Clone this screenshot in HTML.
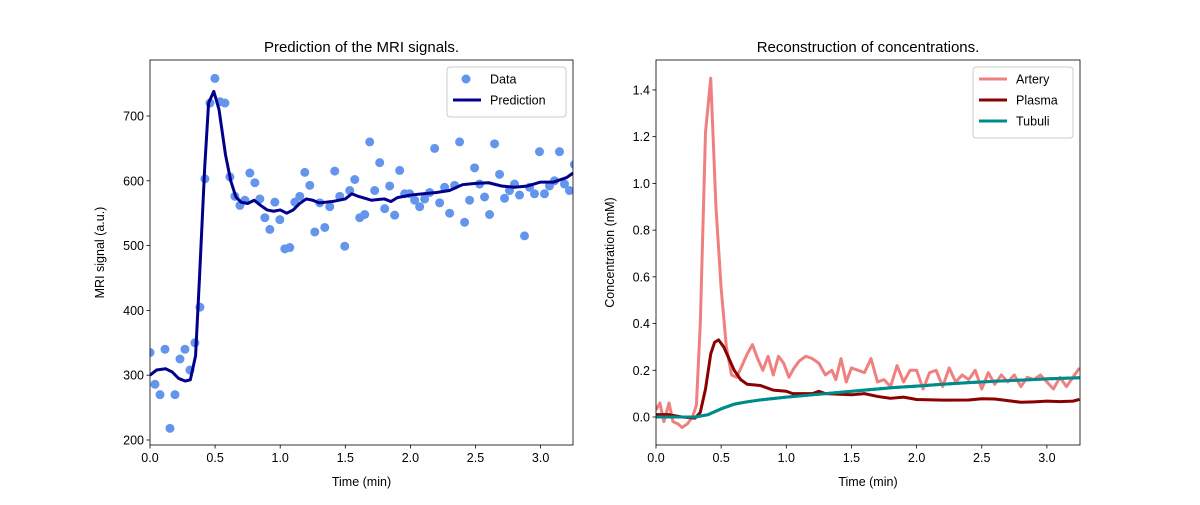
<!DOCTYPE html>
<html><head><meta charset="utf-8"><style>
body{margin:0;background:#fff;}
svg text{font-family:"Liberation Sans","DejaVu Sans",sans-serif;}
</style></head><body>
<svg id="fig" width="1200" height="500" viewBox="0 0 1200 500" xmlns="http://www.w3.org/2000/svg"></svg>
<script>
// ---- Left chart data ----
const dataValues=[335,286,270,340,218,270,325,340,308,350,405,603,720,758,722,720,606,576,562,570,612,597,572,543,525,567,540,495,497,567,576,613,593,521,566,528,560,615,576,499,585,602,543,548,660,585,628,557,592,547,616,580,580,570,560,572,582,650,566,590,550,593,660,536,570,620,595,575,548,657,610,573,585,595,578,515,590,580,645,580,592,600,645,595,585,625];
const predT=[0,0.05,0.12,0.17,0.22,0.27,0.31,0.35,0.38,0.42,0.45,0.49,0.53,0.58,0.62,0.66,0.7,0.75,0.8,0.85,0.9,0.95,1.0,1.05,1.1,1.15,1.2,1.25,1.3,1.35,1.4,1.5,1.55,1.6,1.7,1.8,1.85,1.9,2.0,2.1,2.2,2.3,2.4,2.5,2.6,2.7,2.8,2.9,3.0,3.1,3.2,3.25];
const predV=[300,308,310,305,295,291,293,330,450,620,720,738,710,640,600,575,567,565,570,562,555,553,555,550,555,565,572,570,566,567,568,572,580,576,570,572,568,574,578,580,582,585,594,596,597,592,590,592,598,598,605,612];
const leftXTicks=[0,0.5,1,1.5,2,2.5,3];
const leftYTicks=[200,300,400,500,600,700];
// ---- Right chart data ----
const arteryT=[0,0.03,0.06,0.1,0.13,0.17,0.2,0.24,0.28,0.31,0.34,0.38,0.42,0.46,0.5,0.54,0.58,0.62,0.66,0.7,0.74,0.78,0.82,0.86,0.9,0.94,0.98,1.02,1.06,1.1,1.15,1.2,1.25,1.3,1.35,1.38,1.42,1.46,1.5,1.55,1.6,1.65,1.7,1.75,1.8,1.85,1.9,1.95,2.0,2.05,2.1,2.15,2.2,2.25,2.3,2.35,2.4,2.45,2.5,2.55,2.6,2.65,2.7,2.75,2.8,2.85,2.9,2.95,3.0,3.05,3.1,3.15,3.2,3.25];
const arteryV=[0.03,0.06,-0.02,0.06,-0.02,-0.03,-0.045,-0.03,0.0,0.05,0.4,1.22,1.45,0.9,0.55,0.3,0.18,0.17,0.22,0.27,0.31,0.25,0.2,0.26,0.18,0.26,0.23,0.17,0.21,0.24,0.26,0.25,0.23,0.18,0.2,0.16,0.25,0.15,0.21,0.2,0.19,0.25,0.15,0.16,0.13,0.22,0.15,0.2,0.2,0.12,0.19,0.2,0.13,0.21,0.15,0.18,0.16,0.2,0.12,0.19,0.14,0.18,0.15,0.18,0.13,0.17,0.16,0.18,0.15,0.12,0.17,0.13,0.17,0.21];
const plasmaT=[0,0.1,0.2,0.3,0.34,0.38,0.42,0.45,0.48,0.52,0.56,0.6,0.65,0.7,0.8,0.85,0.9,1.0,1.05,1.1,1.2,1.25,1.3,1.5,1.6,1.7,1.8,1.9,2.0,2.2,2.4,2.5,2.6,2.7,2.8,2.9,3.0,3.1,3.2,3.25];
const plasmaV=[0.01,0.01,0.0,-0.005,0.02,0.12,0.27,0.32,0.33,0.3,0.25,0.2,0.16,0.14,0.135,0.125,0.115,0.11,0.1,0.1,0.1,0.11,0.1,0.095,0.1,0.088,0.08,0.085,0.075,0.072,0.073,0.078,0.077,0.07,0.063,0.065,0.068,0.066,0.068,0.075];
const tubuliT=[0,0.3,0.4,0.5,0.6,0.7,0.8,1.0,1.2,1.4,1.6,1.8,2.0,2.2,2.4,2.6,2.8,3.0,3.25];
const tubuliV=[0,0,0.01,0.035,0.055,0.065,0.073,0.085,0.095,0.105,0.115,0.125,0.132,0.14,0.147,0.153,0.158,0.163,0.168];
const rightXTicks=[0,0.5,1,1.5,2,2.5,3];
const rightYTicks=[0,0.2,0.4,0.6,0.8,1.0,1.2,1.4];

const NS="http://www.w3.org/2000/svg";
const svg=document.getElementById('fig');
function mk(tag,attrs,parent){const e=document.createElementNS(NS,tag);for(const k in attrs)e.setAttribute(k,attrs[k]);(parent||svg).appendChild(e);return e;}

// left axes
const L={x0:150,x1:573,y0:60,y1:445};
const lx=t=>150+t*130.2;
const ly=v=>375.2-(v-300)*0.648;
// right axes
const R={x0:656,x1:1080,y0:60,y1:445};
const rx=t=>656+t*130.3;
const ry=v=>417-v*233.6;

function axes(A,xt,yt,fx,fy,fmtY,title,ylabel,pref){
  const g=mk('g',{});
  
  
  xt.forEach(t=>{const x=fx(t);
    const l=mk('line',{x1:x,x2:x,y1:A.y1,y2:A.y1+3.5,stroke:'#000','stroke-width':0.8},g);
    const tx=mk('text',{x:x,y:A.y1+17,'font-size':12.5,'text-anchor':'middle'},g);tx.textContent=t.toFixed(1);
    
    
  });
  yt.forEach(v=>{const y=fy(v);
    mk('line',{x1:A.x0-3.5,x2:A.x0,y1:y,y2:y,stroke:'#000','stroke-width':0.8},g);
    const tx=mk('text',{x:A.x0-6,y:y+4.5,'font-size':12.5,'text-anchor':'end'},g);tx.textContent=fmtY(v);
    
    
  });
  const t=mk('text',{x:(A.x0+A.x1)/2,y:A.y0-8,'font-size':15,'text-anchor':'middle'},g);t.textContent=title;
  
  
  const xl=mk('text',{x:(A.x0+A.x1)/2,y:A.y1+41,'font-size':12.5,'text-anchor':'middle'},g);xl.textContent='Time (min)';
  
  
  const cy=(A.y0+A.y1)/2, cx=A.x0-(pref==='left'?46:42);
  const yl=mk('text',{x:cx,y:cy,'font-size':12.5,'text-anchor':'middle',transform:`rotate(-90 ${cx} ${cy})`},g);yl.textContent=ylabel;
  
  
}
function frame(A,pref){
  const r=mk('rect',{x:A.x0,y:A.y0,width:A.x1-A.x0,height:A.y1-A.y0,fill:'none',stroke:'#000','stroke-width':0.8});
  
  
}
function clip(id,A){const d=mk('clipPath',{id:id});mk('rect',{x:A.x0,y:A.y0,width:A.x1-A.x0,height:A.y1-A.y0},d);}
clip('cl',L);clip('cr',R);
function line(T,V,fx,fy,color,cl,name){
  const p=mk('polyline',{points:T.map((t,i)=>fx(t)+','+fy(V[i])).join(' '),fill:'none',stroke:color,'stroke-width':3,'stroke-linejoin':'round','clip-path':`url(#${cl})`});
  
  
}

axes(L,leftXTicks,leftYTicks,lx,ly,v=>String(v),'Prediction of the MRI signals.','MRI signal (a.u.)','left');
const N=dataValues.length;
dataValues.forEach((v,i)=>{
  const t=i*3.26/(N-1);
  const c=mk('circle',{cx:lx(t),cy:ly(v),r:4.5,fill:'#6495ed','clip-path':'url(#cl)'});
  
  
});
line(predT,predV,lx,ly,'#00008b','cl','prediction-line');
frame(L,'left');

axes(R,rightXTicks,rightYTicks,rx,ry,v=>v.toFixed(1),'Reconstruction of concentrations.','Concentration (mM)','right');
line(tubuliT,tubuliV,rx,ry,'#008b8b','cr','tubuli-line');
line(arteryT,arteryV,rx,ry,'#f08080','cr','artery-line');
line(plasmaT,plasmaV,rx,ry,'#8b0000','cr','plasma-line');
line(tubuliT,tubuliV,rx,ry,'#008b8b','cr','tubuli-line-front');
frame(R,'right');

// legends
function legend(x,y,w,items,pref){
  const g=mk('g',{});
  
  
  mk('rect',{x:x,y:y,width:w,height:items.length*21+8,rx:3,fill:'#fff',stroke:'#ccc','stroke-width':1},g);
  items.forEach((it,i)=>{const cy=y+12+i*21;
    if(it.type==='dot'){mk('circle',{cx:x+19,cy:cy,r:4.5,fill:it.c},g);}
    else mk('line',{x1:x+6,x2:x+34,y1:cy,y2:cy,stroke:it.c,'stroke-width':3},g);
    const t=mk('text',{x:x+43,y:cy+4.5,'font-size':12.5},g);t.textContent=it.l;
    
    
  });
}
legend(447,67,119,[{type:'dot',c:'#6495ed',l:'Data'},{type:'line',c:'#00008b',l:'Prediction'}],'left');
legend(973,67,100,[{type:'line',c:'#f08080',l:'Artery'},{type:'line',c:'#8b0000',l:'Plasma'},{type:'line',c:'#008b8b',l:'Tubuli'}],'right');
</script>
</body></html>
